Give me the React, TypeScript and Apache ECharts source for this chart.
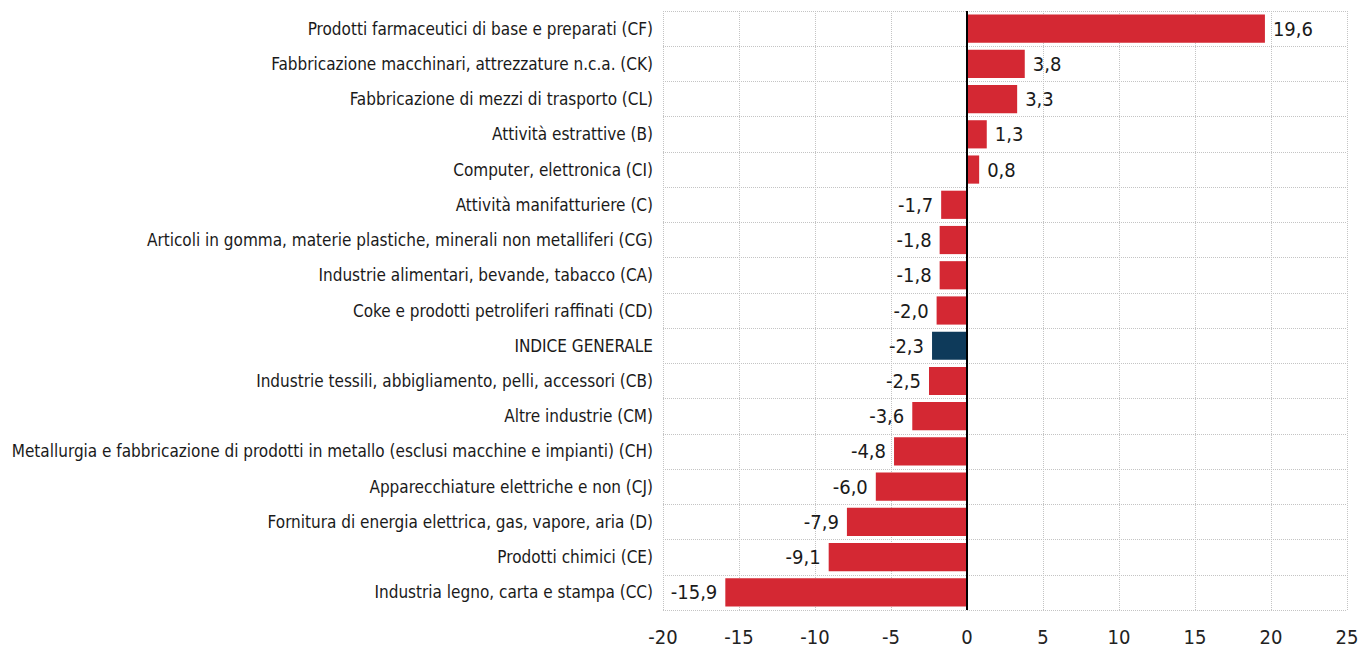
import React, { useEffect, useRef } from "react";
import * as echarts from "echarts";

const categories = [
  "Prodotti farmaceutici di base e preparati (CF)",
  "Fabbricazione macchinari, attrezzature n.c.a. (CK)",
  "Fabbricazione di mezzi di trasporto (CL)",
  "Attività estrattive (B)",
  "Computer, elettronica (CI)",
  "Attività manifatturiere (C)",
  "Articoli in gomma, materie plastiche, minerali non metalliferi (CG)",
  "Industrie alimentari, bevande, tabacco (CA)",
  "Coke e prodotti petroliferi raffinati (CD)",
  "INDICE GENERALE",
  "Industrie tessili, abbigliamento, pelli, accessori (CB)",
  "Altre industrie (CM)",
  "Metallurgia e fabbricazione di prodotti in metallo (esclusi macchine e impianti) (CH)",
  "Apparecchiature elettriche e non (CJ)",
  "Fornitura di energia elettrica, gas, vapore, aria (D)",
  "Prodotti chimici (CE)",
  "Industria legno, carta e stampa (CC)",
];

const values = [19.6, 3.8, 3.3, 1.3, 0.8, -1.7, -1.8, -1.8, -2.0, -2.3, -2.5, -3.6, -4.8, -6.0, -7.9, -9.1, -15.9];

const highlight = "INDICE GENERALE";
const xTicks = { min: -20, max: 25, interval: 5 };

const FONT = "'Liberation Sans Narrow', 'Arial Narrow', 'DejaVu Sans Condensed', sans-serif";

export default function App() {
  const ref = useRef<HTMLDivElement>(null);
  useEffect(() => {
    const chart = echarts.init(ref.current!, null, { renderer: "svg" });
    const fmt = (v: number) => v.toFixed(1).replace(".", ",");
    const gridLine = { show: true, lineStyle: { color: "#c4c4c4", type: [1, 1], width: 1 } };
    chart.setOption({
      animation: false,
      grid: { left: 663, right: 15, top: 11, bottom: 39, containLabel: false },
      xAxis: {
        type: "value",
        min: xTicks.min,
        max: xTicks.max,
        interval: xTicks.interval,
        axisLine: { show: false },
        axisTick: { show: false },
        axisLabel: { fontFamily: FONT, fontSize: 20, color: "#222", margin: 17 },
        splitLine: gridLine,
      },
      yAxis: {
        type: "category",
        data: categories,
        inverse: true,
        axisLine: { show: false },
        axisTick: { show: false },
        axisLabel: { fontFamily: FONT, fontSize: 17, color: "#1a1a1a", margin: 10 },
        splitLine: gridLine,
      },
      series: [
        {
          type: "bar",
          barCategoryGap: "20%",
          data: values.map((v, i) => ({
            value: v,
            itemStyle: { color: categories[i] === highlight ? "#0e3a5a" : "#d42833" },
            label: {
              show: true,
              position: v >= 0 ? "right" : "left",
              distance: 8,
              formatter: () => fmt(v),
              fontFamily: FONT,
              fontSize: 20,
              color: "#1a1a1a",
            },
          })),
          markLine: {
            silent: true,
            symbol: "none",
            label: { show: false },
            lineStyle: { color: "#000", width: 2, type: "solid" },
            data: [{ xAxis: 0 }],
          },
        },
      ],
    });
    return () => chart.dispose();
  }, []);
  return <div ref={ref} style={{ width: 1362, height: 649, position: "absolute", left: 0, top: 0 }} />;
}
